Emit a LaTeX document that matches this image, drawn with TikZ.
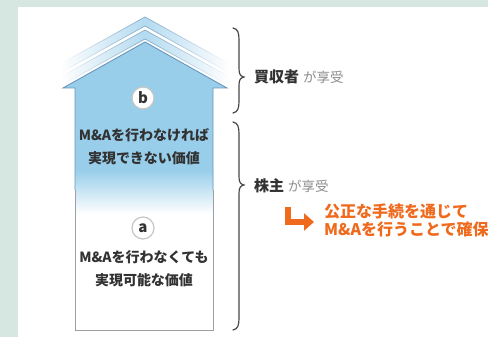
\documentclass[tikz,border=0pt]{standalone}
\usepackage{fontspec}
\setmainfont{Noto Sans CJK JP}
\usetikzlibrary{arrows.meta,fadings}
\definecolor{bgband}{RGB}{214,230,225}
\definecolor{arrowblue}{RGB}{152,206,234}
\definecolor{edgeblue}{RGB}{104,150,188}
\definecolor{chevblue}{RGB}{180,219,241}
\definecolor{txt}{RGB}{50,50,50}
\definecolor{soft}{RGB}{140,140,140}
\definecolor{accent}{RGB}{240,106,30}
\tikzfading[name=chevfade, left color=transparent!100, right color=transparent!100, middle color=transparent!0]
\tikzset{
  badge/.style={circle, fill=white, draw=gray!45, line width=1.2pt, minimum size=22pt, inner sep=0pt, text=txt, font=\bfseries\fontsize{15}{15}\selectfont},
  body/.style={text=txt, inner sep=0pt, font=\bfseries\fontsize{14}{14}\selectfont},
  brace/.style={draw=txt!90, line width=1.2pt, line cap=round},
  who/.style={anchor=west, inner sep=0pt, text=txt, font=\bfseries\fontsize{15}{15}\selectfont},
  chev/.style={fill=chevblue, draw=edgeblue!80, line width=0.7pt, path fading=chevfade},
}
\begin{document}
\begin{tikzpicture}[x=1pt,y=-1pt]
\useasboundingbox (0,0) rectangle (488,337);
\clip (0,0) rectangle (488,337);
\fill[bgband] (0,0) rectangle (488,337);
\fill[white] (18,7) rectangle (488,337);
% chevrons
\path[chev] (62,63) -- (145,17) -- (228,63) -- (228,72) -- (145,26) -- (62,72) -- cycle;
\path[chev] (62,76) -- (145,30) -- (228,76) -- (228,85) -- (145,39) -- (62,85) -- cycle;
% arrow body
\fill[arrowblue] (75,330) -- (75,88) -- (63,88) -- (145,42) -- (227,88) -- (213,88) -- (213,330) -- cycle;
\fill[top color=arrowblue, bottom color=white] (75,170) rectangle (213,214);
\fill[white] (75,213.5) rectangle (213,330);
\draw[edgeblue, line width=0.9pt, line join=miter] (75,190) -- (75,88) -- (63,88) -- (145,42) -- (227,88) -- (213,88) -- (213,190);
\draw[gray!75, line width=0.9pt] (75,190) -- (75,330) -- (213,330) -- (213,190);
% labels in arrow
\node[badge] (b) at (143,98) {b};
\node[body] (t1) at (144,135) {M\&Aを行わなければ};
\node[body] (t2) at (144,158) {実現できない価値};
\node[badge] (a) at (143,228) {a};
\node[body] (t3) at (144,257) {M\&Aを行わなくても};
\node[body] (t4) at (144,280) {実現可能な価値};
% braces
\draw[brace] (233,28) .. controls (238,29) and (239,33) .. (239,40) -- (239,68) .. controls (239,74) and (240,76) .. (244,77) .. controls (240,78) and (239,80) .. (239,86) -- (239,101) .. controls (239,108) and (238,112) .. (233,113);
\draw[brace] (233,122) .. controls (238,123) and (239,127) .. (239,134) -- (239,176) .. controls (239,182) and (240,184) .. (244,185) .. controls (240,186) and (239,188) .. (239,194) -- (239,318) .. controls (239,325) and (238,329) .. (233,330);
\node[who] (buyer) at (254,77) {買収者\hspace{4pt}{\mdseries\fontsize{13.5}{13.5}\selectfont\color{soft}が享受}};
\node[who] (holder) at (254,186) {株主\hspace{4pt}{\mdseries\fontsize{13.5}{13.5}\selectfont\color{soft}が享受}};
% orange arrow
\coordinate (oa) at (288,207);
\coordinate (ob) at (314,222);
\draw[accent, line width=6pt, -{Triangle[length=10pt,width=17pt]}] (oa) |- (ob);
\node[anchor=west, align=left, inner sep=0pt, text=accent, font=\bfseries\fontsize{16}{18}\selectfont] (note) at (324,220) {公正な手続を通じて\\M\&Aを行うことで確保};
\end{tikzpicture}
\end{document}
